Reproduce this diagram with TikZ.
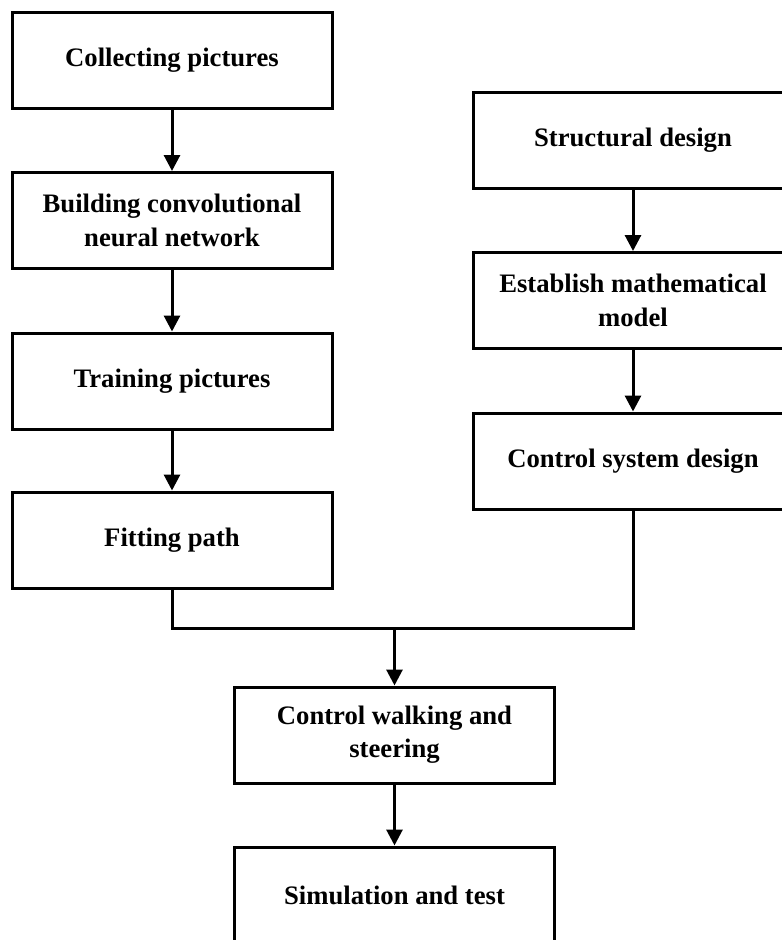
\documentclass[tikz,border=0pt]{standalone}
\usepackage{fontspec}
\setmainfont{Liberation Serif}
\usepackage{tikz}
\usetikzlibrary{arrows.meta}

\begin{document}
\begin{tikzpicture}[x=0.75pt,y=0.75pt,yscale=-1,xscale=1,
	stepbox/.style={draw=black, line width=2.25pt, fill=white, minimum width=240pt, minimum height=72pt, inner sep=0.75pt, align=center, font=\fontsize{20}{25}\selectfont\bfseries},
	flow/.style={draw=black, line width=2.25pt, -{Triangle[width=12pt,length=12pt]}},
	link/.style={draw=black, line width=2.25pt}]
		\useasboundingbox (0,0) rectangle (782,940);
		\clip (0,0) rectangle (782,940);
		
		% Left column
		\node [stepbox] (collect) at (172,60) {Collecting pictures};
		\node [stepbox] (build) at (172,220.5) {Building convolutional\\neural network};
		\node [stepbox] (train) at (172,381) {Training pictures};
		\node [stepbox] (fit) at (172,540) {Fitting path};
		% Right column
		\node [stepbox] (struct) at (633,140) {Structural design};
		\node [stepbox] (model) at (633,300.5) {Establish mathematical\\model};
		\node [stepbox] (ctrlsys) at (633,461) {Control system design};
		% Bottom
		\node [stepbox] (walk) at (394.5,735) {Control walking and\\steering};
		\node [stepbox] (sim) at (394.5,895) {Simulation and test};
		
		%Straight Lines
		\draw [flow] (collect) -- (build);
		\draw [flow] (build) -- (train);
		\draw [flow] (train) -- (fit);
		\draw [flow] (struct) -- (model);
		\draw [flow] (model) -- (ctrlsys);
		% Joining lines
		\coordinate (join) at (394.5,628);
		\draw [link] (fit.south) |- (join) -| (ctrlsys.south);
		\draw [flow] (join) -- (walk);
		\draw [flow] (walk) -- (sim);
	\end{tikzpicture}
\end{document}
